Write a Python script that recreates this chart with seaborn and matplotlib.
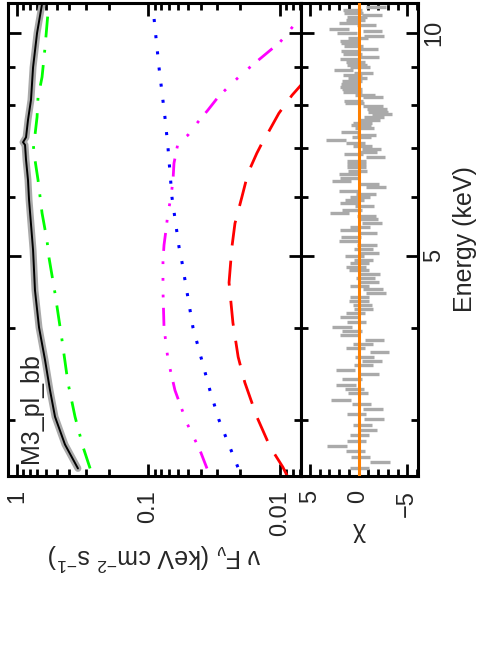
import matplotlib
matplotlib.use("Agg")
import matplotlib.pyplot as plt
from matplotlib.ticker import NullFormatter, MultipleLocator, LogLocator
import pandas as pd
import seaborn as sns

# ── Data (energies in keV, flux in keV cm^-2 s^-1) ────

total_E = [2.58, 2.78, 3.03, 3.29, 3.62, 4.00, 4.49, 5.09, 5.95, 6.33, 6.74,
           7.06, 7.12, 7.23, 7.63, 8.12, 8.99, 10.0, 10.95]
total_F = [0.344, 0.432, 0.514, 0.561, 0.613, 0.680, 0.730, 0.755, 0.810, 0.825,
           0.854, 0.869, 0.900, 0.854, 0.825, 0.783, 0.755, 0.704, 0.645]

pl_E = [2.58, 2.76, 3.03, 3.37, 3.85, 4.45, 4.97, 5.25, 5.71, 6.33, 6.74, 7.10,
        7.28, 7.70, 8.19, 8.72, 9.54, 10.67]
pl_F = [0.278, 0.315, 0.362, 0.410, 0.455, 0.514, 0.571, 0.592, 0.645, 0.692,
        0.730, 0.755, 0.730, 0.704, 0.692, 0.645, 0.613, 0.581]

bb_E = [2.59, 3.00, 3.29, 4.00, 4.90, 5.14, 6.00, 7.01, 7.70, 8.99, 10.48, 10.74]
bb_F = [0.0209, 0.0291, 0.0341, 0.0459, 0.0556, 0.0586, 0.0663, 0.0711, 0.0750,
        0.0832, 0.0908, 0.0940]

c3_E = [2.58, 2.73, 2.97, 3.29, 3.62, 4.00, 4.49, 4.93, 5.17, 5.42, 5.71, 6.00,
        6.33, 6.67, 6.99, 7.10, 7.28, 7.58, 7.87, 8.19, 8.50, 8.83, 9.11, 9.72,
        10.09, 10.41, 10.57]
c3_F = [0.0359, 0.0406, 0.0510, 0.0629, 0.0711, 0.0762, 0.0776, 0.0776, 0.0762,
        0.0736, 0.0711, 0.0675, 0.0651, 0.0640, 0.0607, 0.0597, 0.0501, 0.0421,
        0.0353, 0.0296, 0.0240, 0.0191, 0.0155, 0.0100, 0.0084, 0.0073, 0.0068]

c4_E = [2.52, 2.59, 2.76, 3.03, 3.37, 3.65, 4.06, 4.60, 5.14, 5.53, 6.00, 6.47,
        6.88, 7.10, 7.28, 7.79, 8.24, 8.64]
c4_F = [0.0088, 0.0095, 0.0119, 0.0150, 0.0185, 0.0208, 0.0228, 0.0244, 0.0232,
        0.0220, 0.0195, 0.0175, 0.0150, 0.0137, 0.0126, 0.0102, 0.0081, 0.0064]

res_E = [10.98, 10.84, 10.74, 10.64, 10.58, 10.51, 10.41, 10.32, 10.25, 10.13,
         10.06, 10.00, 9.91, 9.85, 9.75, 9.69, 9.60, 9.51, 9.46, 9.37,
         9.28, 9.22, 9.14, 9.05, 9.00, 8.91, 8.83, 8.78, 8.69, 8.61,
         8.53, 8.45, 8.40, 8.32, 8.25, 8.19, 8.09, 8.04, 7.97, 7.89,
         7.82, 7.77, 7.70, 7.63, 7.56, 7.51, 7.44, 7.35, 7.28, 7.24,
         7.17, 7.10, 7.04, 6.97, 6.91, 6.86, 6.80, 6.72, 6.65, 6.59,
         6.51, 6.45, 6.37, 6.31, 6.25, 6.19, 6.12, 6.06, 6.00, 5.95,
         5.89, 5.84, 5.77, 5.71, 5.66, 5.61, 5.54, 5.47, 5.42, 5.37,
         5.30, 5.24, 5.17, 5.11, 5.04, 5.00, 4.93, 4.89, 4.83, 4.78,
         4.72, 4.67, 4.61, 4.55, 4.51, 4.45, 4.40, 4.34, 4.29, 4.24,
         4.18, 4.13, 4.07, 4.01, 3.96, 3.91, 3.85, 3.80, 3.75, 3.71,
         3.65, 3.60, 3.56, 3.50, 3.46, 3.41, 3.35, 3.30, 3.26, 3.19,
         3.15, 3.10, 3.06, 3.01, 2.95, 2.91, 2.86, 2.81, 2.77, 2.72,
         2.67, 2.63, 2.58]
res_chi = [-2.2, -1.8, 0.6, 0.5, -1.4, 0.15, 0.3, 1.0, -0.8, 2.0,
           -1.45, 1.2, -1.6, 0.05, 0.9, 0.8, 0.5, -0.95, 0.8, 0.6,
           -1.05, 0.85, 0.3, 0.15, -0.15, 1.55, -0.5, 0.6, 0.1, 0.65,
           0.8, 0.95, 0.65, 0.6, -0.65, -1.5, 0.5, 0.4, -1.5, -1.9,
           -2.0, -2.4, -1.6, -1.2, -0.4, -0.25, -0.6, 0.8, -0.8, -0.3,
           2.3, 0.3, -0.4, -1.35, -0.9, 0.5, -1.75, 0.2, 0.2, 0.2,
           0.1, 1.0, 0.85, 1.75, -1.1, -1.8, 1.05, -0.75, -0.15, 0.4,
           0.9, -0.6, 0.65, 1.95, -0.8, -1.0, -1.4, -0.15, 0.85, -0.9,
           0.75, 1.0, -0.85, -0.5, -1.1, 0.4, -0.5, -0.1, 0.25, -0.05,
           -1.2, -0.7, -1.05, -0.1, -1.5, -1.8, -0.1, -0.05, -0.4, -0.5,
           0.3, 0.85, 0.2, 1.7, 0.65, 0.9, -1.65, -0.45, 0.3, -2.15,
           -0.6, -1.4, -0.5, 1.35, -1.15, 0.65, 1.3, 0.4, 0.05, 1.8,
           -0.3, -1.5, 0.2, -1.6, -0.4, -0.9, -0.1, 0.2, 2.2, 0.3,
           -0.2, -2.2, -0.1]

flux_ticks = [1, 0.1, 0.01]
flux_ticklabels = ["1", "0.1", "0.01"]
chi_ticks = [5, 0, -5]
chi_ticklabels = ["5", "0", "\u22125"]
energy_ticks = [5, 10]
energy_ticklabels = ["5", "10"]
energy_minor = [3, 4, 6, 7, 8, 9]

# ── Style ─────────────────────────────────────────────────────────────────────

sns.set_theme(style="ticks")
plt.rcParams.update({
    "font.family": ["Liberation Sans", "DejaVu Sans"],
    "mathtext.default": "regular",
    "lines.scale_dashes": False,
    "axes.linewidth": 2.2,
    "axes.edgecolor": "black",
})

GREY = "#aaaaaa"
FS_TICK = 17
FS_LABEL = 18

W, H = 484, 655
fig = plt.figure(figsize=(W / 100, H / 100), dpi=100)
x0, x1, x2 = 8, 301, 418
ytop, ybot = 3, 476
ax_f = fig.add_axes([x0 / W, 1 - ybot / H, (x1 - x0) / W, (ybot - ytop) / H])
ax_c = fig.add_axes([x1 / W, 1 - ybot / H, (x2 - x1) / W, (ybot - ytop) / H])


def curve(ax, E, F, **kw):
    df = pd.DataFrame({"flux": F, "energy": E})
    sns.lineplot(data=df, x="flux", y="energy", sort=False, estimator=None,
                 ax=ax, **kw)


# ── νFν panel (drawn rotated: flux runs right-to-left, energy upward) ─────────
curve(ax_f, total_E, total_F, color=GREY, linewidth=5, solid_capstyle="round")
curve(ax_f, pl_E, pl_F, color="#00ff00", linewidth=2,
      dashes=(15, 9, 2, 9))
curve(ax_f, bb_E, bb_F, color="#0000ff", linewidth=2.2,
      dashes=(2.2, 9.5))
curve(ax_f, c3_E, c3_F, color="#ff00ff", linewidth=2,
      dashes=(13, 7.5, 2, 10, 2, 10, 2, 7.5))
curve(ax_f, c4_E, c4_F, color="#ff0000", linewidth=2,
      dashes=(18, 11))
curve(ax_f, total_E, total_F, color="black", linewidth=1.4)

ax_f.set_xscale("log")
ax_f.set_yscale("log")
ax_f.set_xlim(1.171, 0.00692)
ax_f.set_ylim(2.52, 10.98)
ax_f.set_xticks(flux_ticks, flux_ticklabels)
ax_f.xaxis.set_minor_locator(LogLocator(base=10, subs=range(2, 10)))
ax_f.xaxis.set_minor_formatter(NullFormatter())
ax_f.set_yticks(energy_ticks, ["", ""])
ax_f.set_yticks(energy_minor, minor=True)
ax_f.yaxis.set_minor_formatter(NullFormatter())
ax_f.set_ylabel("")
ax_f.set_xlabel("\u03bd F$_{\u03bd}$ (keV cm$^{-2}$ s$^{-1}$)", rotation=180,
                fontsize=FS_LABEL, labelpad=4)
ax_f.text(0.078, 0.027, "M3_pl_bb", rotation=90, transform=ax_f.transAxes,
          ha="center", va="bottom", fontsize=FS_LABEL)

# ── χ panel ───────────────────────────────────────────────────────────────────
ax_c.errorbar(res_chi, res_E, xerr=1, fmt="none", ecolor=GREY,
              elinewidth=2.4, capsize=0)
ax_c.axvline(0, color="#ff8000", linewidth=2.2, zorder=5)
ax_c.set_yscale("log")
ax_c.set_xlim(5.9, -6.1)
ax_c.set_ylim(2.52, 10.98)
ax_c.set_xticks(chi_ticks, chi_ticklabels)
ax_c.xaxis.set_minor_locator(MultipleLocator(1))
ax_c.set_yticks(energy_ticks, energy_ticklabels)
ax_c.set_yticks(energy_minor, minor=True)
ax_c.yaxis.set_minor_formatter(NullFormatter())
ax_c.set_xlabel("\u03c7", rotation=180, fontsize=FS_LABEL, labelpad=4)
ax_c.yaxis.set_label_position("right")
ax_c.set_ylabel("Energy (keV)", rotation=90, fontsize=FS_LABEL, labelpad=6)

for ax in (ax_f, ax_c):
    ax.grid(False)
    ax.tick_params(which="both", direction="in", top=True, bottom=True,
                   left=True, right=True, width=2, color="black")
    ax.tick_params(which="major", length=9)
    ax.tick_params(which="minor", length=5)
    ax.tick_params(axis="x", labelrotation=90, labelsize=FS_TICK, pad=10)
    for s in ax.spines.values():
        s.set_visible(True)
        s.set_linewidth(2.2)
        s.set_color("black")

ax_f.tick_params(axis="y", labelleft=False, labelright=False)
ax_c.tick_params(axis="y", labelleft=False, labelright=True,
                 labelsize=FS_TICK, pad=3.5, labelrotation=90)
for lab in ax_c.get_yticklabels():
    lab.set_va("center")

fig.align_xlabels([ax_f, ax_c])
fig.savefig("out.png", dpi=100)
